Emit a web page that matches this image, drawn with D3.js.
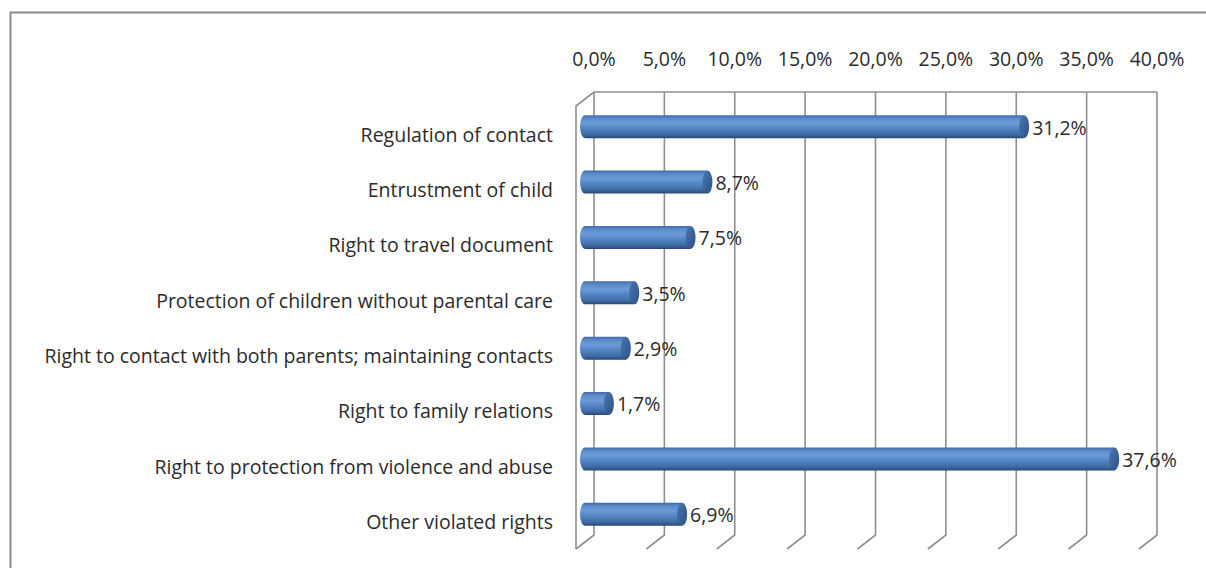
<!DOCTYPE html>
<html>
<head>
<meta charset="utf-8">
<script src="https://cdn.jsdelivr.net/npm/d3@7"></script>
<style>
  body { margin: 0; background: #fff; }
  svg { display: block; font-family: "Open Sans", sans-serif; }
</style>
</head>
<body>
<div class="chart"></div>
<script>
const CATEGORIES = [
    'Regulation of contact',
    'Entrustment of child',
    'Right to travel document',
    'Protection of children without parental care',
    'Right to contact with both parents; maintaining contacts',
    'Right to family relations',
    'Right to protection from violence and abuse',
    'Other violated rights'
];
const VALUES = [31.2, 8.7, 7.5, 3.5, 2.9, 1.7, 37.6, 6.9];
const TICKS = [0, 5, 10, 15, 20, 25, 30, 35, 40];

const WIDTH = 1206;
const HEIGHT = 568;
// 3d depth offset of the front plane relative to the back wall
const DX = -18;
const DY = 14;
const GRID = '#8f8f8f';
const TEXT = '#2b2b2b';
const FONT = 19.5;

const fmt = v => v.toFixed(1).replace('.', ',') + '%';

const svg = d3.select('.chart')
    .append('svg')
    .attr('width', WIDTH)
    .attr('height', HEIGHT);

// outer frame (runs off the right and bottom edge)
svg.append('rect')
    .attr('x', 10.5)
    .attr('y', 12.5)
    .attr('width', 1300)
    .attr('height', 700)
    .attr('fill', 'none')
    .attr('stroke', '#8a8a8a')
    .attr('stroke-width', 2);

const x = d3.scaleLinear().domain([0, 40]).range([594, 1157]);
const y = d3.scaleBand().domain(CATEGORIES).range([92, 535]);

const defs = svg.append('defs');
const grad = defs.append('linearGradient')
    .attr('id', 'cyl')
    .attr('x1', 0).attr('y1', 0).attr('x2', 0).attr('y2', 1);
[['0%', '#3f6ca8'], ['15%', '#5d8ccb'], ['35%', '#6b9ad8'], ['60%', '#5282c2'],
 ['85%', '#3d6aa3'], ['100%', '#27466f']].forEach(s => {
    grad.append('stop').attr('offset', s[0]).attr('stop-color', s[1]);
});
const capGrad = defs.append('linearGradient')
    .attr('id', 'cap')
    .attr('x1', 0).attr('y1', 0).attr('x2', 1).attr('y2', 1);
[['0%', '#4a77b0'], ['100%', '#2d5184']].forEach(s => {
    capGrad.append('stop').attr('offset', s[0]).attr('stop-color', s[1]);
});

// back wall gridlines
const grid = svg.append('g')
    .attr('stroke', GRID)
    .attr('stroke-width', 1.6)
    .attr('fill', 'none');

grid.selectAll('.vline')
    .data(TICKS)
    .enter()
    .append('path')
    .attr('d', d => `M${x(d)},${y.range()[0]}V${y.range()[1]}l${DX},${DY}`);

grid.append('path')
    .attr('d', `M${x(40)},${y.range()[0]}H${x(0)}l${DX},${DY}V${y.range()[1] + DY}`);

// tick labels on top
svg.append('g')
    .selectAll('text')
    .data(TICKS)
    .enter()
    .append('text')
    .attr('x', d => x(d))
    .attr('y', 66)
    .attr('text-anchor', 'middle')
    .attr('font-size', FONT)
    .attr('fill', TEXT)
    .text(fmt);

// category labels, aligned with the front plane
svg.append('g')
    .selectAll('text')
    .data(CATEGORIES)
    .enter()
    .append('text')
    .attr('x', 553)
    .attr('y', d => y(d) + y.bandwidth() / 2 + DY + 1)
    .attr('dy', '0.35em')
    .attr('text-anchor', 'end')
    .attr('font-size', FONT)
    .attr('fill', TEXT)
    .text(d => d);

// cylinders sit half way into the depth
const BAR_H = 23;
const RX = 5;
const bars = svg.append('g')
    .selectAll('g')
    .data(CATEGORIES.map((c, i) => ({ cat: c, val: VALUES[i] })))
    .enter()
    .append('g')
    .attr('transform', d => `translate(${DX / 2}, ${y(d.cat) + y.bandwidth() / 2 + DY / 2})`);

bars.append('path')
    .attr('d', d => {
        const x0 = x(0), x1 = x(d.val), h = BAR_H / 2;
        return `M${x1},${-h}H${x0}A${RX},${h} 0 0 0 ${x0},${h}H${x1}Z`;
    })
    .attr('fill', 'url(#cyl)');

bars.append('ellipse')
    .attr('cx', d => x(d.val))
    .attr('cy', 0)
    .attr('rx', RX)
    .attr('ry', BAR_H / 2)
    .attr('fill', 'url(#cap)');

bars.append('text')
    .attr('x', d => x(d.val) + 8)
    .attr('y', 1)
    .attr('dy', '0.35em')
    .attr('font-size', FONT)
    .attr('fill', TEXT)
    .text(d => fmt(d.val));
</script>
</body>
</html>
